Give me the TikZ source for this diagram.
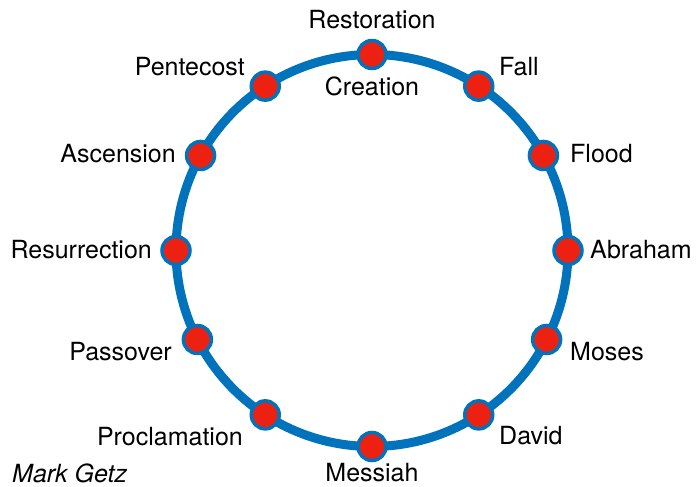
\documentclass[tikz,border=0pt]{standalone}
\usepackage{fontspec}
\setmainfont{TeX Gyre Heros}
\definecolor{ringblue}{RGB}{0,115,188}
\definecolor{stopred}{RGB}{237,33,18}
\tikzset{
  stopdot/.style={circle, draw=ringblue, fill=stopred, line width=3.5pt,
    minimum size=28pt, inner sep=0pt},
  eralabel/.style={inner sep=0pt, font=\fontsize{25}{29}\selectfont}
}
\begin{document}
\begin{tikzpicture}[x=1pt,y=1pt]
\useasboundingbox (-372,-236.5) rectangle (324,250.5);

% =====================
% Ring
% =====================
\def\R{196}
\draw[ringblue, line width=9pt] (0,0) circle (\R);

% =====================
% Stops on the ring
% =====================
\foreach \ang [count=\i from 0] in {90,57,29,0,-27,-57,-90,-123,-153,180,151,123}
  \node[stopdot] (d\i) at (\ang:\R) {};

% =====================
% Labels
% =====================
\node[eralabel, above] (restoration) at (0,221.5) {Restoration};
\node[eralabel, below] (creation) at (0,173.5) {Creation};
\node[eralabel, right] (fall) at (127,183.5) {Fall};
\node[eralabel, right] (flood) at (198,96.5) {Flood};
\node[eralabel, right] (abraham) at (218,0.5) {Abraham};
\node[eralabel, right] (moses) at (198,-101.5) {Moses};
\node[eralabel, right] (david) at (127,-185.5) {David};
\node[eralabel, below] (messiah) at (0,-213) {Messiah};
\node[eralabel, left] (proclamation) at (-129,-186.5) {Proclamation};
\node[eralabel, left] (passover) at (-200,-101.5) {Passover};
\node[eralabel, left] (resurrection) at (-220,0.5) {Resurrection};
\node[eralabel, left] (ascension) at (-196,96.5) {Ascension};
\node[eralabel, left] (pentecost) at (-127,183.5) {Pentecost};

\node[eralabel, right, font=\fontsize{25}{29}\selectfont\itshape] (author) at (-360,-222.5) {Mark Getz};

\end{tikzpicture}
\end{document}
